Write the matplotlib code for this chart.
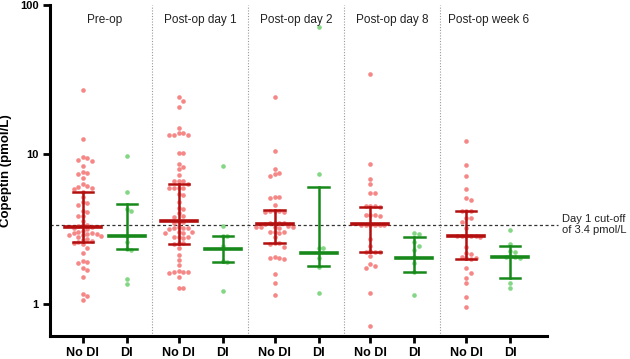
import numpy as np
import matplotlib.pyplot as plt

plt.rcParams['font.family'] = ['Liberation Sans', 'DejaVu Sans']

# Data (Copeptin, pmol/L)
groups = ['Pre-op', 'Post-op day 1', 'Post-op day 2', 'Post-op day 8', 'Post-op week 6']
tick_labels = ['No DI', 'DI']

no_di = [
    [27.0, 12.6, 9.6, 9.4, 9.2, 9.0, 8.4, 7.6, 7.5, 7.4, 7.0, 6.3, 6.2, 6.1, 6.0, 5.9,
     5.6, 5.2, 4.8, 4.7, 4.6, 4.2, 4.1, 3.9, 3.85, 3.6, 3.4, 3.35, 3.3, 3.25, 3.2, 3.15,
     3.1, 3.05, 3.0, 2.98, 2.95, 2.92, 2.9, 2.88, 2.85, 2.8, 2.7, 2.68, 2.65, 2.6, 2.55,
     2.5, 2.35, 2.2, 1.95, 1.92, 1.88, 1.74, 1.69, 1.52, 1.17, 1.13, 1.06],
    [24.2, 22.9, 20.9, 15.1, 13.9, 13.9, 13.4, 13.4, 13.4, 10.3, 10.3, 8.7, 8.2, 8.0, 7.3,
     6.6, 6.6, 6.6, 6.3, 6.0, 6.0, 6.0, 6.0, 5.4, 5.35, 4.8, 4.4, 4.35, 4.05, 3.85, 3.8,
     3.55, 3.55, 3.5, 3.25, 3.22, 3.2, 3.2, 3.18, 3.05, 3.03, 3.0, 3.0, 2.82, 2.8, 2.8,
     2.78, 2.56, 2.55, 2.52, 2.37, 2.13, 1.97, 1.82, 1.65, 1.64, 1.64, 1.63, 1.62, 1.52,
     1.28, 1.27],
    [24.1, 10.6, 8.0, 7.5, 7.45, 7.2, 5.2, 5.2, 5.1, 4.6, 4.2, 4.2, 4.18, 4.15, 4.1, 3.5,
     3.48, 3.47, 3.46, 3.45, 3.3, 3.28, 3.27, 3.26, 3.25, 3.22, 3.05, 3.03, 3.02, 3.0,
     2.8, 2.55, 2.54, 2.52, 2.4, 2.05, 2.03, 2.02, 2.0, 1.59, 1.39, 1.15],
    [34.5, 8.6, 6.9, 6.3, 5.55, 5.5, 4.55, 4.5, 4.5, 4.45, 3.95, 3.94, 3.93, 3.9, 3.4,
     3.39, 3.38, 3.37, 3.36, 3.35, 2.72, 2.45, 2.25, 2.24, 2.23, 2.22, 2.09, 1.85, 1.8,
     1.75, 1.18, 0.71],
    [12.4, 8.5, 7.2, 5.85, 5.1, 4.95, 4.2, 4.2, 4.18, 3.75, 3.73, 3.55, 3.2, 2.86, 2.85,
     2.85, 2.84, 2.83, 2.82, 2.42, 2.18, 2.17, 2.05, 2.04, 2.02, 2.0, 1.73, 1.62, 1.49,
     1.39, 1.12, 0.95],
]

di = [
    [9.7, 5.6, 4.3, 4.2, 2.85, 2.6, 2.32, 2.3, 1.47, 1.35],
    [8.4, 3.33, 2.87, 2.85, 2.45, 1.93, 1.9, 1.22],
    [71.0, 7.4, 2.38, 2.35, 2.02, 1.78, 1.18],
    [2.98, 2.96, 2.6, 2.45, 2.3, 2.07, 1.88, 1.64, 1.14],
    [3.13, 2.52, 2.25, 2.23, 2.08, 2.06, 2.05, 2.03, 1.38, 1.27],
]

no_di_median = [3.29, 3.61, 3.43, 3.41, 2.85]
no_di_q1 = [2.61, 2.52, 2.55, 2.24, 1.99]
no_di_q3 = [5.64, 6.32, 4.25, 4.48, 4.2]
di_median = [2.85, 2.32, 2.18, 2.03, 2.07]
di_q1 = [2.32, 1.92, 1.80, 1.64, 1.50]
di_q3 = [4.64, 2.86, 6.1, 2.82, 2.44]

cutoff = 3.4

fig = plt.figure(figsize=(6.3, 3.59), dpi=100)
ax = fig.add_axes([0.079, 0.064, 0.789, 0.922])
ax.set_yscale('log')
ax.set_ylim(0.61, 100)
ax.set_xlim(-0.75, 10.55)

gap = 2.18
pos_no = [i * gap for i in range(len(groups))]
pos_di = [i * gap + 1 for i in range(len(groups))]


def swarm(x0, vals, d=4.6):
    # simple beeswarm in pixel space
    vals = np.sort(np.asarray(vals))[::-1]
    pts = ax.transData.transform(np.column_stack([np.full(len(vals), x0), vals]))
    xc = pts[0, 0]
    placed = []
    xs = []
    for y in pts[:, 1]:
        k = 0
        while True:
            off = ((k + 1) // 2) * d * (1 if k % 2 else -1) if k else 0.0
            ok = all((px - (xc + off)) ** 2 + (py - y) ** 2 >= d * d * 0.95 for px, py in placed)
            if ok:
                break
            k += 1
        placed.append((xc + off, y))
        xs.append(xc + off)
    back = ax.transData.inverted().transform(np.column_stack([xs, pts[:, 1]]))
    return back[:, 0], vals


red_dot = '#F57A7A'
red_bar = '#B30F0F'
green_dot = '#76D276'
green_bar = '#17891A'

for i in range(len(groups)):
    x, y = swarm(pos_no[i], no_di[i])
    ax.scatter(x, y, s=11, color=red_dot, alpha=0.9, linewidths=0, zorder=2)
    x, y = swarm(pos_di[i], di[i])
    ax.scatter(x, y, s=11, color=green_dot, alpha=0.9, linewidths=0, zorder=2)

    for p, med, lo, hi, c in [(pos_no[i], no_di_median[i], no_di_q1[i], no_di_q3[i], red_bar),
                              (pos_di[i], di_median[i], di_q1[i], di_q3[i], green_bar)]:
        ax.plot([p, p], [lo, hi], color=c, lw=1.8, zorder=3)
        ax.plot([p - 0.23, p + 0.23], [lo, lo], color=c, lw=1.8, zorder=3)
        ax.plot([p - 0.23, p + 0.23], [hi, hi], color=c, lw=1.8, zorder=3)
        ax.plot([p - 0.41, p + 0.41], [med, med], color=c, lw=2.6, zorder=3)

    ax.text(i * gap + 0.5, 80, groups[i], ha='center', va='center', fontsize=8.5, color='#222222')
    if i > 0:
        ax.axvline(i * gap - 0.6, color='#999999', lw=0.8, ls=(0, (1, 1.5)), zorder=1)

# cut-off line extending past the axes
ax.plot([-0.75, 10.8], [cutoff, cutoff], color='#333333', lw=0.9, ls=(0, (2.5, 2)),
        clip_on=False, zorder=1)
ax.text(10.9, cutoff, 'Day 1 cut-off\nof 3.4 pmol/L', ha='left', va='center',
        fontsize=8, color='#222222', linespacing=1.1)

ax.set_xticks(pos_no + pos_di)
ax.set_xticklabels(tick_labels[:1] * len(groups) + tick_labels[1:] * len(groups),
                   fontsize=9, fontweight='bold')
ax.set_yticks([1, 10, 100])
ax.set_yticklabels(['1', '10', '100'], fontsize=8, fontweight='bold')
ax.yaxis.set_minor_locator(plt.NullLocator())
ax.set_ylabel('Copeptin (pmol/L)', fontsize=9.5, fontweight='bold', labelpad=6)

for s in ['top', 'right']:
    ax.spines[s].set_visible(False)
for s in ['left', 'bottom']:
    ax.spines[s].set_linewidth(2.2)
ax.tick_params(axis='both', width=2.0, length=5, pad=3)

fig.savefig('out.png', dpi=100)
